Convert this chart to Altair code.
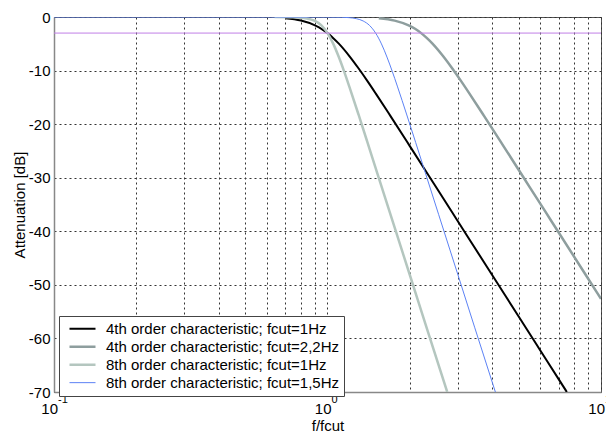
import altair as alt
import pandas as pd

# ---- data ----
series_names = [
    "4th order characteristic; fcut=1Hz",
    "4th order characteristic; fcut=2,2Hz",
    "8th order characteristic; fcut=1Hz",
    "8th order characteristic; fcut=1,5Hz",
]

f_4th_1 = [0.7, 0.8, 0.9, 0.95, 1.0, 1.05, 1.1, 1.2, 1.3, 1.4, 1.5, 1.7, 2.0, 2.5, 3.0, 4.0, 5.0, 6.0, 7.0, 7.5]
db_4th_1 = [-0.24, -0.67, -1.56, -2.2, -3.01, -3.95, -4.97, -7.24, -9.62, -11.97, -14.25, -18.5, -24.1, -31.84, -38.17, -48.16, -55.92, -62.25, -67.6, -70.0]

f_4th_22 = [1.54, 1.76, 1.98, 2.09, 2.2, 2.31, 2.42, 2.64, 2.86, 3.08, 3.3, 3.74, 4.4, 5.5, 6.6, 8.8, 10.0]
db_4th_22 = [-0.24, -0.67, -1.56, -2.2, -3.01, -3.95, -4.97, -7.24, -9.62, -11.97, -14.25, -18.5, -24.1, -31.84, -38.17, -48.16, -52.6]

f_8th_1 = [0.64, 0.75, 0.8, 0.85, 0.9, 0.95, 1.0, 1.05, 1.1, 1.15, 1.2, 1.3, 1.4, 1.5, 1.7, 2.0, 2.3, 2.74]
db_8th_1 = [0.0, -0.04, -0.12, -0.31, -0.74, -1.58, -3.01, -5.02, -7.48, -10.15, -12.9, -18.29, -23.4, -28.2, -36.9, -48.16, -57.9, -70.0]

f_8th_15 = [0.1, 0.6, 0.96, 1.125, 1.2, 1.275, 1.35, 1.425, 1.5, 1.575, 1.65, 1.725, 1.8, 1.95, 2.1, 2.25, 2.55, 3.0, 3.45, 4.11]
db_8th_15 = [0.0, 0.0, -0.01, -0.04, -0.12, -0.31, -0.74, -1.58, -3.01, -5.02, -7.48, -10.15, -12.9, -18.29, -23.4, -28.2, -36.9, -48.16, -57.9, -70.0]

line_colors = ["#000000", "#8E9E9E", "#B4C6BF", "#5C82F5"]
line_widths = [2.0, 2.5, 2.5, 1.0]

minus3_level = [-3]
x_grid = [0.1, 0.2, 0.3, 0.4, 0.5, 0.6, 0.7, 0.8, 0.9,
          1, 2, 3, 4, 5, 6, 7, 8, 9, 10]
y_ticks = [0, -10, -20, -30, -40, -50, -60, -70]
decades = [0.1, 1, 10]
decade_exponents = ["-1", "0", "1"]

# ---- tables ----
rows = []
for name, fs, dbs in zip(series_names,
                         [f_4th_1, f_4th_22, f_8th_1, f_8th_15],
                         [db_4th_1, db_4th_22, db_8th_1, db_8th_15]):
    for f, d in zip(fs, dbs):
        rows.append({"series": name, "f": f, "db": d})
df = pd.DataFrame(rows)
df["order"] = df["series"].map({n: i for i, n in enumerate(series_names)})

W, H = 547, 375
FONT = "Liberation Sans"

x_scale = alt.Scale(type="log", domain=[0.1, 10], nice=False)
y_scale = alt.Scale(domain=[-70, 0], nice=False)

lines = alt.Chart(df).mark_line(interpolate="monotone", clip=True).encode(
    x=alt.X("f:Q", scale=x_scale,
            axis=alt.Axis(values=x_grid, labels=False, ticks=False, tickSize=0,
                          grid=True, title="f/fcut", titleX=273.5, titleY=33,
                          titleAlign="center", titleBaseline="middle")),
    y=alt.Y("db:Q", scale=y_scale,
            axis=alt.Axis(values=y_ticks, ticks=False, tickSize=0, grid=True,
                          labelPadding=4,
                          labelExpr="datum.value < 0 ? '-' + abs(datum.value) : '' + datum.value",
                          title="Attenuation [dB]", titleX=-35, titleY=187.5,
                          titleAngle=270, titleAlign="center", titleBaseline="middle")),
    color=alt.Color("series:N", sort=series_names,
                    scale=alt.Scale(domain=series_names, range=line_colors),
                    legend=alt.Legend(title=None, orient="none", legendX=5, legendY=299,
                                      direction="vertical")),
    strokeWidth=alt.StrokeWidth("series:N", sort=series_names,
                                scale=alt.Scale(type="ordinal", domain=series_names, range=line_widths),
                                legend=alt.Legend(title=None, orient="none", legendX=5, legendY=299,
                                                  direction="vertical")),
    detail="series:N",
    order="order:Q",
)

rule3 = alt.Chart(pd.DataFrame({"db": minus3_level})).mark_rule(
    color="#C07EE6", strokeWidth=1).encode(y=alt.Y("db:Q", scale=y_scale))

lab_df = pd.DataFrame({"f": decades, "exp": decade_exponents})
base_lab = alt.Chart(lab_df).mark_text(
    align="right", baseline="middle", dx=4, fontSize=15, font=FONT, color="#000"
).encode(x=alt.X("f:Q", scale=x_scale), y=alt.value(H + 17), text=alt.value("10"))
exp_lab = alt.Chart(lab_df).mark_text(
    align="left", baseline="middle", dx=4, fontSize=11, font=FONT, color="#000"
).encode(x=alt.X("f:Q", scale=x_scale), y=alt.value(H + 8), text="exp:N")

chart = alt.layer(lines, rule3, base_lab, exp_lab).properties(
    width=W, height=H,
    padding={"left": 54, "top": 17, "right": 5, "bottom": 43},
    autosize=alt.AutoSizeParams(type="none"),
).configure(font=FONT).configure_view(
    stroke="#555555", strokeWidth=1
).configure_axis(
    domainColor="#888888", domainWidth=1.5,
    gridColor="#333333", gridDash=[2, 3], gridWidth=1, gridOpacity=1,
    labelFont=FONT, labelFontSize=15, labelColor="#000",
    titleFont=FONT, titleFontSize=15, titleFontWeight="normal", titleColor="#000",
).configure_legend(
    fillColor="white", strokeColor="#444444", padding=4, symbolOffset=5,
    symbolType="stroke", symbolSize=676, labelFont=FONT, labelFontSize=15,
    labelColor="#000", labelOffset=9, rowPadding=0, clipHeight=17.3,
    labelLimit=400, cornerRadius=0,
)

chart.save("out.html", embed_options={"renderer": "svg", "actions": False})
